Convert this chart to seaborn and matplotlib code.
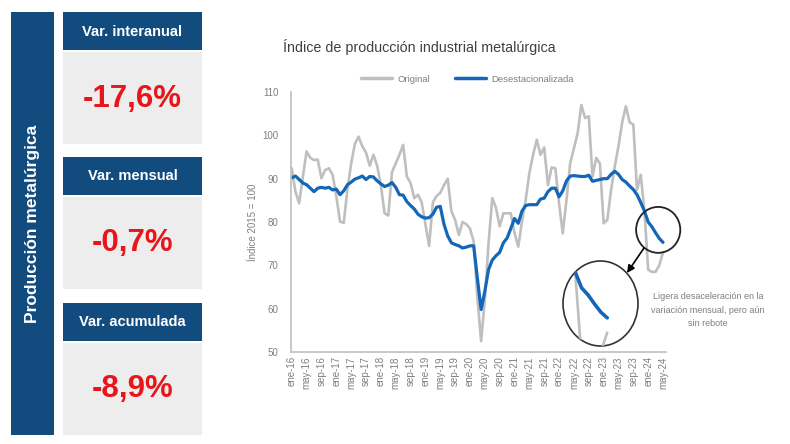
import numpy as np
import pandas as pd
import matplotlib
matplotlib.use("Agg")
import matplotlib.pyplot as plt
import seaborn as sns
from matplotlib.patches import Rectangle, Ellipse

# Índice de producción industrial metalúrgica, mensual ene-16 .. may-24
original = [
    92.4, 87.0, 84.3, 90.5, 96.3, 94.8, 94.3, 94.4, 90.1, 92.0, 92.4, 90.9,   # 2016
    86.0, 80.1, 79.8, 87.5, 93.5, 98.0, 99.7, 97.5, 96.0, 93.0, 95.5, 93.0,   # 2017
    88.5, 82.0, 81.5, 91.5, 93.5, 95.5, 97.8, 90.5, 89.0, 85.5, 86.3, 84.5,   # 2018
    79.5, 74.5, 84.5, 86.0, 86.7, 88.5, 90.0, 82.5, 80.5, 77.0, 80.0, 79.5,   # 2019
    78.5, 75.5, 62.5, 52.5, 62.0, 75.0, 85.5, 83.3, 79.0, 82.0, 82.0, 82.0,   # 2020
    77.5, 74.3, 80.0, 85.1, 91.3, 95.5, 99.0, 95.5, 97.2, 88.5, 92.6, 92.4,   # 2021
    84.3, 77.4, 85.1, 93.6, 97.0, 100.5, 107.0, 104.0, 104.4, 90.5, 94.8, 93.5,  # 2022
    79.7, 80.5, 87.4, 92.8, 97.5, 103.0, 106.7, 103.0, 102.5, 87.4, 90.9, 82.5,  # 2023
    69.0, 68.5, 68.5, 70.0, 73.0,                                             # 2024
]
desest = [
    90.2, 90.6, 89.8, 89.0, 88.6, 87.8, 87.0, 87.8, 88.0, 87.8, 88.0, 87.4,   # 2016
    87.6, 86.3, 87.2, 88.6, 89.2, 89.9, 90.2, 90.6, 89.8, 90.5, 90.4, 89.5,   # 2017
    88.8, 88.2, 88.5, 89.1, 88.0, 86.3, 86.2, 84.7, 83.8, 83.0, 81.8, 81.2,   # 2018
    80.9, 81.0, 81.8, 83.4, 83.6, 79.5, 76.8, 75.2, 74.8, 74.5, 74.0, 74.2,   # 2019
    74.5, 74.5, 67.0, 59.8, 64.0, 69.0, 71.2, 72.2, 73.0, 75.2, 76.3, 78.5,   # 2020
    80.8, 79.7, 82.5, 83.8, 84.0, 84.0, 84.0, 85.3, 85.5, 87.0, 87.8, 87.8,   # 2021
    85.8, 87.2, 89.5, 90.6, 90.7, 90.6, 90.5, 90.5, 90.8, 89.4, 89.6, 89.8,   # 2022
    90.0, 90.0, 91.0, 91.7, 91.0, 89.8, 89.2, 88.3, 87.5, 86.3, 84.5, 82.5,   # 2023
    80.0, 78.9, 77.5, 76.2, 75.3,                                             # 2024
]
month_abbr = ["ene", "feb", "mar", "abr", "may", "jun",
              "jul", "ago", "sep", "oct", "nov", "dic"]
months = pd.period_range("2016-01", "2024-05", freq="M")
tick_labels = [f"{month_abbr[p.month - 1]}-{p.year % 100:02d}" for p in months[::4]]

kpi_titles = ["Var. interanual", "Var. mensual", "Var. acumulada"]
kpi_values = ["-17,6%", "-0,7%", "-8,9%"]

NAVY = "#124B7E"
RED = "#E8161B"
BLUE = "#1467B8"
GREY = "#BFBFBF"
TXT = "#7F7F7F"

sns.set_style("white")
plt.rcParams["font.family"] = ["Liberation Sans", "DejaVu Sans"]

df = pd.DataFrame({
    "mes": np.tile(np.arange(len(months)), 2),
    "valor": original + desest,
    "serie": ["Original"] * len(original) + ["Desestacionalizada"] * len(desest),
})
palette = {"Original": GREY, "Desestacionalizada": BLUE}

fig = plt.figure(figsize=(7.9, 4.44), dpi=100)

# ---- left KPI panel (pixel coordinates) ----
bg = fig.add_axes([0, 0, 1, 1])
bg.set_xlim(0, 790)
bg.set_ylim(444, 0)
bg.axis("off")
bg.add_patch(Rectangle((11, 12), 43, 423, color=NAVY, lw=0))
bg.text(33, 224, "Producción metalúrgica", rotation=90, color="white",
        fontsize=12.5, fontweight="bold", ha="center", va="center")
box_tops = [12.5, 157, 303]
for top, title, val in zip(box_tops, kpi_titles, kpi_values):
    bg.add_patch(Rectangle((63, top), 139, 38, color=NAVY, lw=0))
    bg.add_patch(Rectangle((63, top + 40), 139, 92, color="#EDEDED", lw=0))
    bg.text(132.5, top + 19, title, color="white", fontsize=10.5,
            fontweight="bold", ha="center", va="center")
    bg.text(132.5, top + 86, val, color=RED, fontsize=22.5,
            fontweight="bold", ha="center", va="center")

# ---- main chart ----
ax = fig.add_axes([291 / 790, 1 - 352 / 444, 375 / 790, 260 / 444])
sns.lineplot(data=df, x="mes", y="valor", hue="serie",
             hue_order=["Original", "Desestacionalizada"], palette=palette,
             ax=ax, linewidth=1.9)
for line, lw in zip(ax.lines, [1.9, 2.3]):
    line.set_linewidth(lw)
ax.set_xlim(-0.2, 100.8)
ax.set_ylim(50, 110)
ax.set_yticks(range(50, 111, 10))
ax.set_xticks(np.arange(0, len(months), 4))
ax.set_xticklabels(tick_labels, rotation=90)
ax.tick_params(axis="both", length=0, labelsize=7, colors=TXT)
ax.tick_params(axis="y", pad=9)
ax.tick_params(axis="x", pad=3)
ax.set_xlabel("")
ax.set_ylabel("Índice 2015 = 100", fontsize=7, color=TXT, labelpad=3)
for side in ["top", "right"]:
    ax.spines[side].set_visible(False)
for side in ["left", "bottom"]:
    ax.spines[side].set_color(GREY)
    ax.spines[side].set_linewidth(1.2)
sns.move_legend(ax, "lower center", bbox_to_anchor=(0.47, 1.0), ncol=2,
                title=None, frameon=False, fontsize=6.8, handlelength=3.3,
                handletextpad=0.6, columnspacing=2.6, labelcolor=TXT)
for h in ax.get_legend().legend_handles:
    h.set_linewidth(2.5)
fig.text(283 / 790, 1 - 47 / 444, "Índice de producción industrial metalúrgica",
         fontsize=10.3, color="#404040", ha="left", va="center")

# small circle around the latest months
cx = len(months) - 2.3
cy = np.mean(desest[-5:]) + 0.6
ax.add_patch(Ellipse((cx, cy), 11.9, 10.6, fill=False, ec="#222222",
                     lw=1.3, clip_on=False, zorder=5))

# magnified view inside a larger circle
ins = fig.add_axes([563 / 790, 1 - 346 / 444, 75 / 790, 85 / 444])
sns.lineplot(data=df, x="mes", y="valor", hue="serie",
             hue_order=["Original", "Desestacionalizada"], palette=palette,
             ax=ins, legend=False)
ins.set_xlim(93.1, 104.8)
ins.set_ylim(70.9, 84.2)
ins.axis("off")
ring = Ellipse((0.5, 0.5), 1, 1, transform=ins.transAxes, fill=False,
               ec="#333333", lw=1.2, clip_on=False)
ins.add_patch(ring)
for line, lw in zip(ins.lines, [1.9, 2.6]):
    line.set_linewidth(lw)
    line.set_clip_path(ring)

# arrow and note (pixel coordinates)
top_ax = fig.add_axes([0, 0, 1, 1], facecolor="none")
top_ax.set_xlim(0, 790)
top_ax.set_ylim(444, 0)
top_ax.axis("off")
top_ax.annotate("", xy=(627, 273), xytext=(644, 248),
                arrowprops=dict(arrowstyle="-|>", color="black", lw=1.2,
                                mutation_scale=11, shrinkA=0, shrinkB=0))
top_ax.text(708, 310, "Ligera desaceleración en la\nvariación mensual, pero aún\nsin rebote",
            fontsize=6.5, color=TXT, ha="center", va="center", linespacing=1.6)

fig.savefig("out.png", dpi=100)
